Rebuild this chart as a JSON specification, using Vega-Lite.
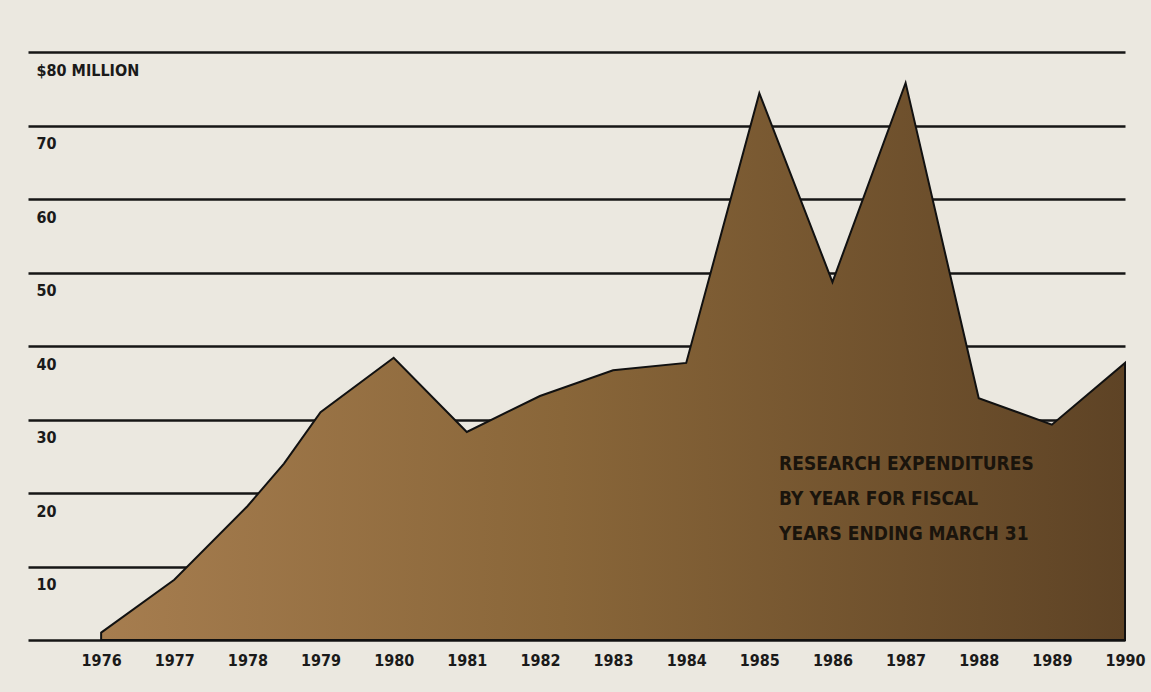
{
  "$schema": "https://vega.github.io/schema/vega-lite/v6.json",
  "width": 1097,
  "height": 588,
  "autosize": {"type": "none"},
  "padding": {"left": 28, "top": 52, "right": 26, "bottom": 52},
  "background": "#ebe8e0",
  "config": {"view": {"stroke": null}},
  "layer": [
    {
      "data": {"values": [
        {"year": 1976, "value": 1.0},
        {"year": 1977, "value": 8.2},
        {"year": 1978, "value": 18.2},
        {"year": 1978.5, "value": 24.0},
        {"year": 1979, "value": 31.0},
        {"year": 1980, "value": 38.4},
        {"year": 1981, "value": 28.3},
        {"year": 1982, "value": 33.2},
        {"year": 1983, "value": 36.7},
        {"year": 1984, "value": 37.7},
        {"year": 1985, "value": 74.4},
        {"year": 1986, "value": 48.7},
        {"year": 1987, "value": 75.8},
        {"year": 1988, "value": 32.9},
        {"year": 1989, "value": 29.3},
        {"year": 1990, "value": 37.7}
      ]},
      "mark": {
        "type": "area",
        "stroke": "#111111",
        "strokeWidth": 2,
        "strokeJoin": "miter",
        "color": {
          "gradient": "linear",
          "x1": 0, "y1": 1, "x2": 1, "y2": 1,
          "stops": [
            {"offset": 0, "color": "#a67d4f"},
            {"offset": 0.45, "color": "#896639"},
            {"offset": 1, "color": "#5e4325"}
          ]
        }
      },
      "encoding": {
        "x": {
          "field": "year", "type": "quantitative",
          "scale": {"domain": [1975, 1990], "nice": false, "zero": false},
          "axis": {
            "title": null, "domain": false, "ticks": false, "grid": false,
            "values": [1976,1977,1978,1979,1980,1981,1982,1983,1984,1985,1986,1987,1988,1989,1990],
            "format": "d",
            "labelFont": "DejaVu Sans Condensed",
            "labelFontWeight": "bold",
            "labelFontSize": 16,
            "labelColor": "#1a1a1a",
            "labelPadding": 12,
            "labelFlush": false
          }
        },
        "y": {
          "field": "value", "type": "quantitative",
          "scale": {"domain": [0, 80], "nice": false},
          "axis": {
            "title": null, "domain": false, "ticks": false,
            "values": [0,10,20,30,40,50,60,70,80],
            "grid": true,
            "gridColor": "#161616",
            "gridWidth": 2.5,
            "gridOpacity": 1,
            "labelExpr": "datum.value == 80 ? '$80 MILLION' : (datum.value == 0 ? '' : datum.label)",
            "labelAlign": "left",
            "labelBaseline": "top",
            "labelPadding": -8,
            "labelOffset": 10,
            "labelFont": "DejaVu Sans Condensed",
            "labelFontWeight": "bold",
            "labelFontSize": 16,
            "labelColor": "#1a1a1a",
            "labelFlush": false
          }
        }
      }
    },
    {
      "data": {"values": [{}]},
      "mark": {
        "type": "text",
        "align": "left",
        "baseline": "top",
        "font": "DejaVu Sans Condensed",
        "fontWeight": "bold",
        "fontSize": 19,
        "lineHeight": 35,
        "color": "#1a140c",
        "text": ["RESEARCH EXPENDITURES", "BY YEAR FOR FISCAL", "YEARS ENDING MARCH 31"]
      },
      "encoding": {
        "x": {"datum": 1985.27, "type": "quantitative"},
        "y": {"datum": 25.2, "type": "quantitative"}
      }
    }
  ]
}
